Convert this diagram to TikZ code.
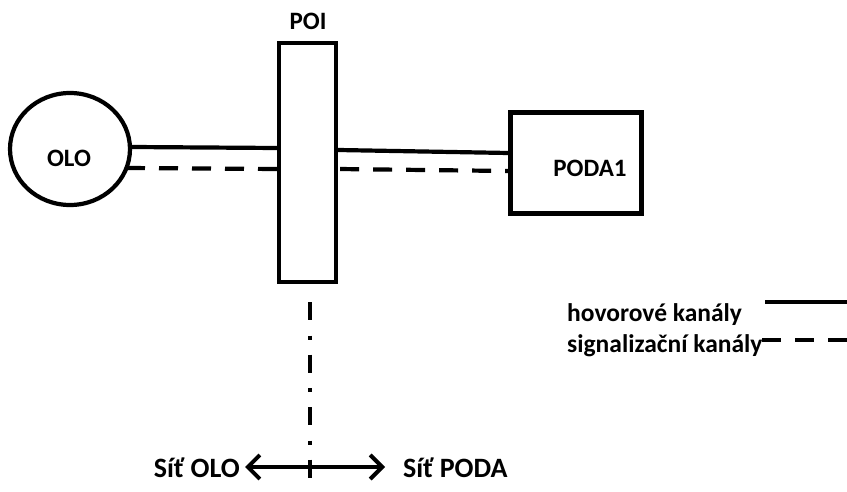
\documentclass[tikz,border=0pt]{standalone}
\usepackage{fontspec}
\setmainfont{Carlito}
\usetikzlibrary{shapes.geometric,arrows.meta,calc}
\begin{document}
\begin{tikzpicture}[x=1pt,y=-1pt,
  thick line/.style={line width=4.2pt},
  dash line/.style={line width=4.2pt, dash pattern=on 19pt off 14pt},
  lbl/.style={font=\bfseries\fontsize{25}{27}\selectfont, inner sep=0pt},
  sitlbl/.style={font=\bfseries\fontsize{28}{30}\selectfont, inner sep=0pt},
  leg/.style={font=\bfseries\fontsize{25.5}{27}\selectfont, inner sep=0pt, anchor=base west},
  box/.style={draw, line width=4.2pt, rectangle, inner sep=0pt}]
\useasboundingbox (0,0) rectangle (847,492);
% nodes
\node[draw, ellipse, line width=4.2pt, minimum width=120pt, minimum height=112pt, inner sep=0pt] (olo) at (70,149) {};
\node[lbl] (ololbl) at (69,158) {OLO};
\node[box, minimum width=57pt, minimum height=239pt] (poi) at (307.5,162.5) {};
\node[lbl] (poilbl) at (308,21) {POI};
\node[box, minimum width=131pt, minimum height=101pt] (poda) at (576,163) {};
\node[lbl] (podalbl) at (590,168) {PODA1};
% connections
\draw[thick line] ($(olo.east)+(0,-2)$) -- (poi.west |- 0,148);
\draw[thick line] (poi.east |- 0,150) -- (poda.west |- 0,153);
\draw[dash line] (126,168) coordinate (dl1) -- (poi.west |- 0,169);
\draw[dash line, dash phase=-2pt] (poi.east |- 0,169) -- (poda.west |- 0,171);
% legend
\node[leg] (leg1) at (567,321) {hovorové kanály};
\node[leg] (leg2) at (567,352) {signalizační kanály};
\coordinate (l1a) at (765,302); \coordinate (l1b) at (847,302);
\coordinate (l2a) at (762,340); \coordinate (l2b) at (847,340);
\draw[thick line] (l1a) -- (l1b);
\draw[dash line] (l2a) -- (l2b);
% dash-dot boundary
\coordinate (v1) at (310,302); \coordinate (v2) at (310,492);
\draw[line width=4.2pt, dash pattern=on 18pt off 15.5pt on 4pt off 15pt] (v1) -- (v2);
% arrow
\node[sitlbl, anchor=east] (sitolo) at (240,468) {Síť OLO};
\node[sitlbl, anchor=west] (sitpoda) at (403,468) {Síť PODA};
\coordinate (al) at (245,467); \coordinate (ar) at (385,467);
\draw[line width=4.2pt, {Straight Barb[length=12pt,width=24pt,line width=4pt]}-{Straight Barb[length=12pt,width=24pt,line width=4pt]}] (al) -- (ar);
\end{tikzpicture}
\end{document}
